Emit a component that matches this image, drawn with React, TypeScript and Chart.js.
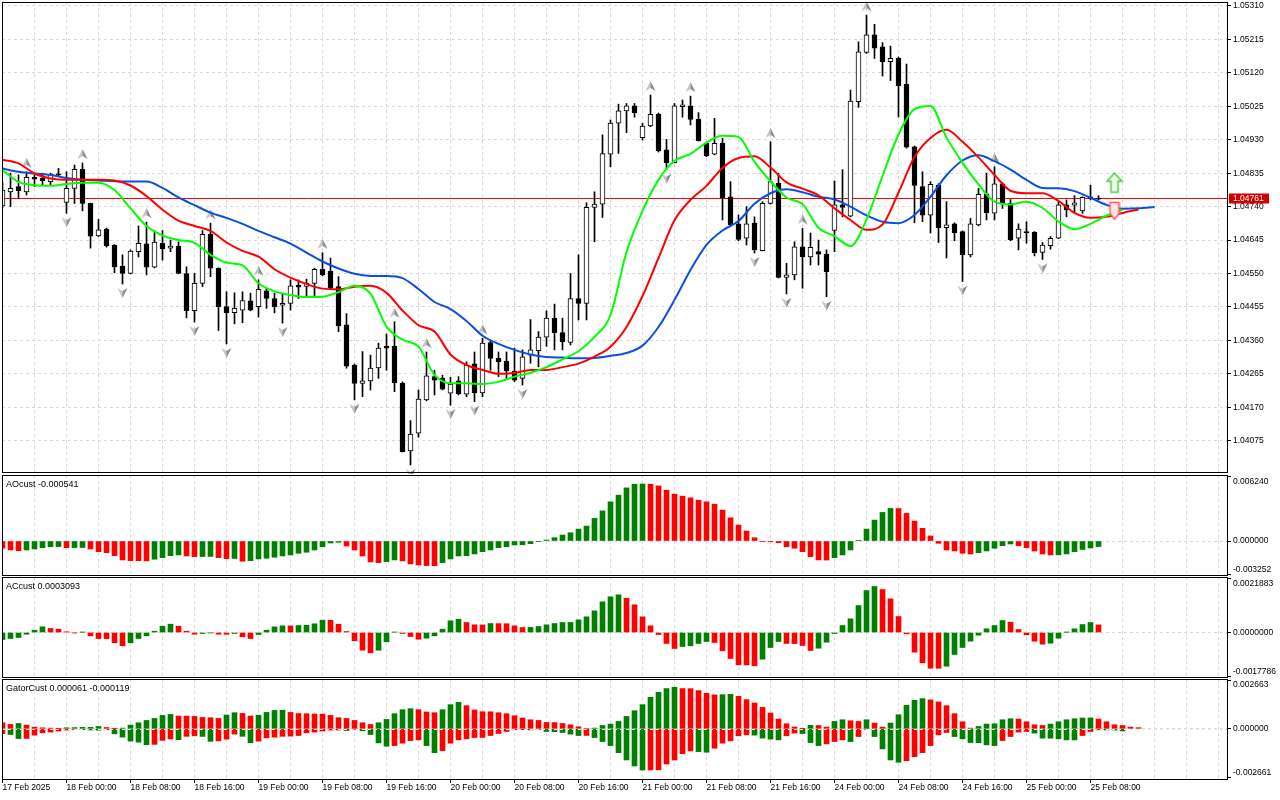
import React, { useEffect, useRef } from 'react';
import { Chart, registerables } from 'chart.js';

Chart.register(...registerables);

// ---------------- DATA ----------------
const timeLabels = [
  '17 Feb 2025', '18 Feb 00:00', '18 Feb 08:00', '18 Feb 16:00', '19 Feb 00:00', '19 Feb 08:00',
  '19 Feb 16:00', '20 Feb 00:00', '20 Feb 08:00', '20 Feb 16:00', '21 Feb 00:00', '21 Feb 08:00',
  '21 Feb 16:00', '24 Feb 00:00', '24 Feb 08:00', '24 Feb 16:00', '25 Feb 00:00', '25 Feb 08:00',
];

const priceTicks = [1.0531, 1.05215, 1.0512, 1.05025, 1.0493, 1.04835, 1.0474, 1.04645, 1.0455, 1.04455, 1.0436, 1.04265, 1.0417, 1.04075];
const currentPrice = 1.04761;

const candleOpen = [
  1.04742, 1.04782, 1.04797, 1.04782, 1.04823, 1.04820, 1.04811, 1.04833, 1.04752, 1.04792,
  1.04846, 1.04749, 1.04657, 1.04676, 1.04631, 1.04571, 1.04550, 1.04612, 1.04634, 1.04568,
  1.04636, 1.04622, 1.04628, 1.04550, 1.04444, 1.04522, 1.04661, 1.04565, 1.04456, 1.04439,
  1.04446, 1.04472, 1.04456, 1.04501, 1.04479, 1.04460, 1.04465, 1.04517, 1.04513, 1.04522,
  1.04562, 1.04557, 1.04513, 1.04404, 1.04290, 1.04238, 1.04245, 1.04282, 1.04343, 1.04343,
  1.04238, 1.04046, 1.04096, 1.04191, 1.04257, 1.04252, 1.04210, 1.04245, 1.04207, 1.04293,
  1.04211, 1.04354, 1.04309, 1.04301, 1.04273, 1.04252, 1.04318, 1.04331, 1.04369, 1.04423,
  1.04382, 1.04354, 1.04479, 1.04465, 1.04738, 1.04747, 1.04889, 1.04977, 1.05012, 1.05026,
  1.04936, 1.04969, 1.05003, 1.04901, 1.04865, 1.05024, 1.05026, 1.04988, 1.04920, 1.04889,
  1.04920, 1.04768, 1.04691, 1.04650, 1.04693, 1.04615, 1.04749, 1.04806, 1.04539, 1.04546,
  1.04626, 1.04597, 1.04612, 1.04605, 1.04672, 1.04745, 1.04713, 1.05038, 1.05178, 1.05228,
  1.05194, 1.05152, 1.05161, 1.05088, 1.04910, 1.04797, 1.04716, 1.04801, 1.04680, 1.04691,
  1.04669, 1.04603, 1.04688, 1.04776, 1.04721, 1.04805, 1.04749, 1.04650, 1.04669, 1.04667,
  1.04610, 1.04629, 1.04650, 1.04745, 1.04744, 1.04728, 1.04768, 1.04764,
];
const candleHigh = [
  1.04810, 1.04835, 1.04830, 1.04839, 1.04830, 1.04835, 1.04835, 1.04849, 1.04839, 1.04858,
  1.04864, 1.04750, 1.04704, 1.04679, 1.04632, 1.04603, 1.04617, 1.04685, 1.04696, 1.04672,
  1.04672, 1.04645, 1.04640, 1.04569, 1.04550, 1.04672, 1.04693, 1.04566, 1.04498, 1.04495,
  1.04498, 1.04494, 1.04532, 1.04508, 1.04494, 1.04494, 1.04532, 1.04532, 1.04534, 1.04565,
  1.04609, 1.04594, 1.04541, 1.04436, 1.04293, 1.04328, 1.04318, 1.04352, 1.04378, 1.04413,
  1.04242, 1.04132, 1.04219, 1.04327, 1.04275, 1.04261, 1.04255, 1.04257, 1.04299, 1.04327,
  1.04366, 1.04361, 1.04327, 1.04327, 1.04338, 1.04333, 1.04419, 1.04385, 1.04444, 1.04463,
  1.04423, 1.04550, 1.04603, 1.04751, 1.04782, 1.04944, 1.04986, 1.05031, 1.05033, 1.05033,
  1.04977, 1.05057, 1.05006, 1.04931, 1.05033, 1.05043, 1.05054, 1.05007, 1.04923, 1.04991,
  1.04934, 1.04811, 1.04716, 1.04740, 1.04711, 1.04754, 1.04924, 1.04835, 1.04579, 1.04640,
  1.04678, 1.04665, 1.04645, 1.04617, 1.04813, 1.04845, 1.05071, 1.05208, 1.05284, 1.05258,
  1.05206, 1.05196, 1.05165, 1.05145, 1.04912, 1.04839, 1.04811, 1.04805, 1.04754, 1.04694,
  1.04671, 1.04707, 1.04792, 1.04835, 1.04853, 1.04808, 1.04760, 1.04691, 1.04697, 1.04669,
  1.04638, 1.04655, 1.04754, 1.04759, 1.04771, 1.04768, 1.04801, 1.04771,
];
const candleLow = [
  1.04736, 1.04740, 1.04764, 1.04773, 1.04797, 1.04801, 1.04801, 1.04825, 1.04721, 1.04749,
  1.04728, 1.04622, 1.04655, 1.04625, 1.04552, 1.04520, 1.04549, 1.04597, 1.04546, 1.04566,
  1.04588, 1.04612, 1.04549, 1.04424, 1.04412, 1.04513, 1.04541, 1.04388, 1.04350, 1.04407,
  1.04410, 1.04444, 1.04426, 1.04451, 1.04438, 1.04409, 1.04446, 1.04479, 1.04484, 1.04484,
  1.04543, 1.04507, 1.04385, 1.04281, 1.04191, 1.04200, 1.04219, 1.04252, 1.04275, 1.04214,
  1.04043, 1.04006, 1.04085, 1.04188, 1.04205, 1.04219, 1.04176, 1.04205, 1.04200, 1.04186,
  1.04200, 1.04275, 1.04257, 1.04252, 1.04243, 1.04233, 1.04295, 1.04285, 1.04343, 1.04333,
  1.04333, 1.04347, 1.04418, 1.04418, 1.04640, 1.04709, 1.04853, 1.04891, 1.04950, 1.04994,
  1.04929, 1.04967, 1.04895, 1.04845, 1.04864, 1.04994, 1.04972, 1.04926, 1.04882, 1.04887,
  1.04702, 1.04685, 1.04643, 1.04631, 1.04608, 1.04614, 1.04747, 1.04537, 1.04492, 1.04532,
  1.04508, 1.04574, 1.04574, 1.04484, 1.04612, 1.04711, 1.04711, 1.05022, 1.05175, 1.05161,
  1.05111, 1.05098, 1.04995, 1.04906, 1.04694, 1.04697, 1.04665, 1.04638, 1.04594, 1.04643,
  1.04527, 1.04597, 1.04685, 1.04702, 1.04702, 1.04735, 1.04643, 1.04617, 1.04636, 1.04600,
  1.04590, 1.04619, 1.04649, 1.04711, 1.04721, 1.04721, 1.04759, 1.04759,
];
const candleClose = [
  1.04787, 1.04792, 1.04785, 1.04823, 1.04818, 1.04814, 1.04832, 1.04830, 1.04792, 1.04846,
  1.04749, 1.04656, 1.04674, 1.04628, 1.04569, 1.04550, 1.04614, 1.04636, 1.04568, 1.04639,
  1.04620, 1.04628, 1.04550, 1.04444, 1.04522, 1.04661, 1.04565, 1.04456, 1.04439, 1.04451,
  1.04473, 1.04446, 1.04505, 1.04479, 1.04456, 1.04465, 1.04515, 1.04511, 1.04522, 1.04562,
  1.04546, 1.04508, 1.04401, 1.04287, 1.04238, 1.04245, 1.04281, 1.04338, 1.04338, 1.04240,
  1.04044, 1.04094, 1.04193, 1.04259, 1.04247, 1.04221, 1.04236, 1.04208, 1.04290, 1.04211,
  1.04352, 1.04309, 1.04299, 1.04273, 1.04247, 1.04313, 1.04333, 1.04369, 1.04423, 1.04382,
  1.04356, 1.04479, 1.04465, 1.04738, 1.04747, 1.04891, 1.04977, 1.05012, 1.05026, 1.05007,
  1.04969, 1.05002, 1.04898, 1.04865, 1.05026, 1.05029, 1.04988, 1.04927, 1.04885, 1.04920,
  1.04765, 1.04688, 1.04647, 1.04691, 1.04617, 1.04749, 1.04811, 1.04539, 1.04546, 1.04626,
  1.04597, 1.04624, 1.04605, 1.04555, 1.04745, 1.04738, 1.05040, 1.05180, 1.05228, 1.05190,
  1.05152, 1.05161, 1.05083, 1.04909, 1.04800, 1.04716, 1.04803, 1.04680, 1.04688, 1.04666,
  1.04603, 1.04691, 1.04775, 1.04723, 1.04805, 1.04747, 1.04645, 1.04676, 1.04665, 1.04609,
  1.04631, 1.04650, 1.04745, 1.04731, 1.04751, 1.04766, 1.04763, 1.04761,
];

// Alligator lines, one value every 2 bars starting at bar 0 (already shifted forward as displayed)
const jawLine = [
  1.04848, 1.04839, 1.04834, 1.04830, 1.04821, 1.04816, 1.04814, 1.04812, 1.04811, 1.04811,
  1.04793, 1.04766, 1.04744, 1.04723, 1.04708, 1.04691, 1.04671, 1.04653, 1.04635, 1.04609,
  1.04584, 1.04564, 1.04549, 1.04543, 1.04543, 1.04537, 1.04506, 1.04469, 1.04449, 1.04415,
  1.04373, 1.04350, 1.04333, 1.04320, 1.04313, 1.04311, 1.04309, 1.04310, 1.04316, 1.04324,
  1.04345, 1.04398, 1.04475, 1.04560, 1.04631, 1.04672, 1.04699, 1.04748, 1.04778, 1.04789,
  1.04781, 1.04768, 1.04760, 1.04740, 1.04715, 1.04697, 1.04693, 1.04716, 1.04768, 1.04829,
  1.04871, 1.04886, 1.04869, 1.04845, 1.04816, 1.04793, 1.04792, 1.04784, 1.04765, 1.04745,
  1.04734, 1.04735, 1.04739,
];
const teethLine = [
  1.04873, 1.04863, 1.04834, 1.04820, 1.04816, 1.04816, 1.04816, 1.04814, 1.04800, 1.04770,
  1.04731, 1.04700, 1.04685, 1.04671, 1.04638, 1.04614, 1.04598, 1.04562, 1.04538, 1.04520,
  1.04507, 1.04505, 1.04512, 1.04515, 1.04495, 1.04445, 1.04403, 1.04385, 1.04320, 1.04290,
  1.04276, 1.04265, 1.04267, 1.04276, 1.04276, 1.04284, 1.04294, 1.04314, 1.04342, 1.04398,
  1.04486, 1.04594, 1.04701, 1.04759, 1.04799, 1.04850, 1.04878, 1.04883, 1.04851, 1.04809,
  1.04791, 1.04772, 1.04735, 1.04702, 1.04674, 1.04689, 1.04780, 1.04881, 1.04935, 1.04958,
  1.04924, 1.04880, 1.04830, 1.04785, 1.04778, 1.04778, 1.04756, 1.04722, 1.04708, 1.04711,
  1.04722, 1.04732,
];
const lipsLine = [
  1.04844, 1.04810, 1.04801, 1.04799, 1.04804, 1.04808, 1.04808, 1.04787, 1.04735, 1.04685,
  1.04658, 1.04645, 1.04637, 1.04603, 1.04581, 1.04573, 1.04522, 1.04499, 1.04489, 1.04483,
  1.04484, 1.04497, 1.04515, 1.04492, 1.04399, 1.04362, 1.04342, 1.04262, 1.04238, 1.04238,
  1.04236, 1.04242, 1.04257, 1.04268, 1.04284, 1.04306, 1.04329, 1.04370, 1.04432, 1.04611,
  1.04728, 1.04816, 1.04870, 1.04890, 1.04922, 1.04941, 1.04938, 1.04867, 1.04812, 1.04766,
  1.04747, 1.04680, 1.04656, 1.04628, 1.04703, 1.04827, 1.04945, 1.05017, 1.05026, 1.04936,
  1.04865, 1.04803, 1.04754, 1.04746, 1.04754, 1.04736, 1.04698, 1.04676, 1.04691, 1.04714,
  1.04731,
];

const upFractalBars = [3, 10, 18, 26, 32, 40, 49, 53, 60, 81, 86, 96, 100, 108, 124];
const downFractalBars = [8, 15, 24, 28, 35, 44, 51, 56, 59, 65, 83, 94, 98, 103, 120, 130];

const signalUpBars = [139];
const signalUpPrices = [1.04808];
const signalDownBars = [139];
const signalDownPrices = [1.04728];

const aoValues = [
  -0.000707, -0.000872, -0.000940, -0.000872, -0.000775, -0.000649, -0.000552, -0.000543, -0.000649, -0.000640,
  -0.000630, -0.000775, -0.001037, -0.001134, -0.001424, -0.001841, -0.001909, -0.001919, -0.001928, -0.001773,
  -0.001618, -0.001424, -0.001357, -0.001454, -0.001521, -0.001512, -0.001502, -0.001618, -0.001715, -0.001696,
  -0.001967, -0.001909, -0.001744, -0.001676, -0.001579, -0.001454, -0.001357, -0.001192, -0.001095, -0.000872,
  -0.000552, -0.000194, -0.000126, -0.000485, -0.000872, -0.001454, -0.002035, -0.002103, -0.002006, -0.001841,
  -0.001938, -0.002229, -0.002326, -0.002393, -0.002403, -0.002103, -0.001744, -0.001454, -0.001434, -0.001260,
  -0.001037, -0.000872, -0.000649, -0.000552, -0.000388, -0.000368, -0.000262, -0.000068, 0.000097, 0.000320,
  0.000581, 0.000804, 0.001163, 0.001454, 0.002200, 0.002936, 0.003808, 0.004457, 0.005165, 0.005523,
  0.005543, 0.005523, 0.005359, 0.004942, 0.004554, 0.004361, 0.004196, 0.003973, 0.003808, 0.003585,
  0.003004, 0.002258, 0.001550, 0.000969, 0.000320, -0.000068, -0.000078, -0.000165, -0.000552, -0.000707,
  -0.001037, -0.001521, -0.001841, -0.001851, -0.001618, -0.001357, -0.000872, 0.000029, 0.001163, 0.002035,
  0.002781, 0.003169, 0.003159, 0.002684, 0.001938, 0.001231, 0.000485, -0.000223, -0.000872, -0.000969,
  -0.001192, -0.001260, -0.001134, -0.000969, -0.000707, -0.000455, -0.000291, -0.000455, -0.000649, -0.000969,
  -0.001260, -0.001357, -0.001347, -0.001260, -0.001037, -0.000824, -0.000678, -0.000541,
];
const aoTicks = [0.00624, 0, -0.003252];

const acValues = [
  -0.0002835, -0.0002430, -0.0002025, -0.0000689, 0.0000932, 0.0002309, 0.0001620, 0.0001337, 0.0000284, -0.0000122,
  0.0000081, -0.0001337, -0.0002430, -0.0002471, -0.0004172, -0.0005387, -0.0004172, -0.0002430, -0.0001337, 0.0000527,
  0.0002552, 0.0003362, 0.0002552, 0.0000527, -0.0000689, -0.0000405, -0.0000122, -0.0000689, -0.0000729, -0.0000405,
  -0.0001742, -0.0002430, -0.0000810, 0.0000932, 0.0002309, 0.0002714, 0.0002673, 0.0002835, 0.0002957, 0.0003524,
  0.0004982, 0.0004941, 0.0003362, 0.0000405, -0.0003362, -0.0007169, -0.0008222, -0.0007169, -0.0003767, 0.0000122,
  -0.0000405, -0.0001620, -0.0002714, -0.0002309, -0.0001337, 0.0001337, 0.0004739, 0.0005387, 0.0004050, 0.0003119,
  0.0003078, 0.0003645, 0.0003605, 0.0003564, 0.0002714, 0.0002025, 0.0002066, 0.0002430, 0.0003119, 0.0003645,
  0.0004050, 0.0004091, 0.0005144, 0.0006359, 0.0008789, 0.0012434, 0.0014459, 0.0015269, 0.0013892, 0.0011219,
  0.0006359, 0.0002714, -0.0000810, -0.0004455, -0.0006480, -0.0005670, -0.0005387, -0.0004455, -0.0003645, -0.0004050,
  -0.0007412, -0.0010530, -0.0013082, -0.0013122, -0.0013487, -0.0010814, -0.0006075, -0.0003645, -0.0004455, -0.0004496,
  -0.0005265, -0.0007290, -0.0006359, -0.0003929, -0.0000405, 0.0002835, 0.0005549, 0.0010935, 0.0017010, 0.0018630,
  0.0017415, 0.0013649, 0.0006480, -0.0000527, -0.0007979, -0.0012272, -0.0014459, -0.0014499, -0.0013649, -0.0008910,
  -0.0006075, -0.0003524, -0.0001094, 0.0001499, 0.0002835, 0.0004860, 0.0004172, 0.0001215, -0.0000932, -0.0003524,
  -0.0004739, -0.0004334, -0.0002309, 0.0000081, 0.0001499, 0.0003240, 0.0004050, 0.0003093,
];
const acTicks = [0.0021883, 0, -0.0017786];

const gatorUpper = [
  0.000329, 0.000236, 0.000291, 0.000203, 0.000093, 0.000055, 0.000038, 0.000016, 0.000055, 0.000066,
  0.000077, 0.000082, 0.000126, 0.000071, 0.000016, 0.000038, 0.000203, 0.000329, 0.000456, 0.000565,
  0.000730, 0.000785, 0.000697, 0.000692, 0.000675, 0.000620, 0.000604, 0.000565, 0.000752, 0.000878,
  0.000840, 0.000697, 0.000741, 0.000895, 0.001005, 0.001016, 0.000895, 0.000834, 0.000824, 0.000807,
  0.000802, 0.000730, 0.000604, 0.000565, 0.000456, 0.000329, 0.000236, 0.000329, 0.000511, 0.000824,
  0.001043, 0.001098, 0.001043, 0.000917, 0.000878, 0.001043, 0.001318, 0.001444, 0.001263, 0.001027,
  0.000933, 0.000928, 0.000878, 0.000824, 0.000714, 0.000587, 0.000494, 0.000456, 0.000346, 0.000340,
  0.000291, 0.000220, 0.000110, 0.000027, 0.000038, 0.000181, 0.000258, 0.000401, 0.000675, 0.000988,
  0.001318, 0.001718, 0.001993, 0.002196, 0.002267, 0.002196, 0.002191, 0.002086, 0.001938, 0.001850,
  0.001861, 0.001883, 0.001773, 0.001592, 0.001411, 0.001169, 0.000862, 0.000533, 0.000275, 0.000099,
  0.000011, 0.000187, 0.000181, 0.000093, 0.000401, 0.000494, 0.000439, 0.000401, 0.000494, 0.000313,
  0.000093, 0.000313, 0.000769, 0.001279, 0.001554, 0.001647, 0.001576, 0.001466, 0.001263, 0.000824,
  0.000384, 0.000038, 0.000126, 0.000258, 0.000275, 0.000494, 0.000549, 0.000533, 0.000384, 0.000220,
  0.000181, 0.000258, 0.000384, 0.000494, 0.000549, 0.000587, 0.000593, 0.000533, 0.000384, 0.000220,
  0.000181, 0.000093, 0.000061,
];
const gatorLower = [
  -0.000258, -0.000313, -0.000533, -0.000527, -0.000346, -0.000220, -0.000181, -0.000126, -0.000071, -0.000038,
  -0.000049, -0.000066, -0.000077, -0.000055, -0.000275, -0.000456, -0.000675, -0.000730, -0.000867, -0.000851,
  -0.000631, -0.000554, -0.000593, -0.000412, -0.000384, -0.000417, -0.000686, -0.000659, -0.000565, -0.000291,
  -0.000412, -0.000763, -0.000675, -0.000494, -0.000456, -0.000412, -0.000401, -0.000368, -0.000220, -0.000181,
  -0.000126, -0.000071, -0.000066, -0.000093, -0.000027, -0.000110, -0.000313, -0.000769, -0.000950, -0.000917,
  -0.000785, -0.000642, -0.000604, -0.000917, -0.001301, -0.001191, -0.000785, -0.000604, -0.000549, -0.000478,
  -0.000472, -0.000368, -0.000258, -0.000148, -0.000055, -0.000049, -0.000060, -0.000038, -0.000148, -0.000154,
  -0.000203, -0.000291, -0.000368, -0.000362, -0.000478, -0.000697, -0.000917, -0.001301, -0.001702, -0.002031,
  -0.002251, -0.002245, -0.002240, -0.001922, -0.001702, -0.001356, -0.001208, -0.001246, -0.001279, -0.001060,
  -0.000785, -0.000659, -0.000384, -0.000329, -0.000346, -0.000511, -0.000565, -0.000604, -0.000384, -0.000236,
  -0.000258, -0.000752, -0.000917, -0.000824, -0.000697, -0.000604, -0.000697, -0.000423, -0.000016, -0.000423,
  -0.001098, -0.001702, -0.001828, -0.001740, -0.001521, -0.001301, -0.000917, -0.000329, -0.000203, -0.000423,
  -0.000549, -0.000752, -0.000758, -0.000878, -0.000917, -0.000642, -0.000423, -0.000181, -0.000148, -0.000236,
  -0.000511, -0.000516, -0.000549, -0.000604, -0.000609, -0.000368, -0.000148, -0.000055, -0.000060, -0.000066,
  -0.000119,
];
const gatorTicks = [0.002663, 0, -0.002661];

// ---------------- STYLE ----------------
const X_MIN = -0.0625;
const X_MAX = 153.0625;
const GRID_COLOR = '#d9d9d9';
const FONT_FAMILY = '"Liberation Sans", Arial, sans-serif';
const AXIS_FONT = { family: FONT_FAMILY, size: 8.5 };
const TITLE_FONT = '9px "Liberation Sans", Arial, sans-serif';
const HIST_UP = '#008000';
const HIST_DOWN = '#ff0000';
const PRICE_LINE = '#ff0000';
const TRANSPARENT = 'rgba(0,0,0,0)';

function gridTickValues(): number[] {
  const v: number[] = [];
  for (let t = 0; t <= 152; t += 4) v.push(t);
  return v;
}

function isLabelTick(v: number) {
  return v % 8 === 0 && v / 8 < timeLabels.length;
}

function makeXScale(showLabels: boolean) {
  return {
    type: 'linear',
    position: 'bottom',
    min: X_MIN,
    max: X_MAX,
    offset: false,
    afterBuildTicks: (axis: any) => {
      axis.ticks = gridTickValues().map((value) => ({ value }));
    },
    afterFit: (axis: any) => {
      axis.height = showLabels ? 21 : 0;
      axis.paddingLeft = 0;
      axis.paddingRight = 0;
    },
    grid: {
      offset: false,
      color: GRID_COLOR,
      lineWidth: 1,
      drawTicks: showLabels,
      tickLength: 4,
      tickWidth: 1,
      tickBorderDash: [],
      tickColor: (ctx: any) => (ctx.tick && isLabelTick(ctx.tick.value) ? '#000000' : TRANSPARENT),
    },
    border: { display: false, dash: [3, 3] },
    ticks: {
      display: showLabels,
      autoSkip: false,
      maxRotation: 0,
      minRotation: 0,
      align: 'start',
      padding: 0,
      color: '#000000',
      font: AXIS_FONT,
      callback: (value: any) => {
        const v = Number(value);
        return isLabelTick(v) ? timeLabels[v / 8] : '';
      },
    },
  };
}

function makeYScale(min: number, max: number, tickValues: number[], decimals: number, edgeLabels: boolean, gridAll: boolean) {
  return {
    type: 'linear',
    position: 'right',
    min,
    max,
    beginAtZero: false,
    afterBuildTicks: (axis: any) => {
      axis.ticks = tickValues.map((value) => ({ value }));
    },
    afterFit: (axis: any) => {
      axis.width = 53;
      axis.paddingTop = 0;
      axis.paddingBottom = 0;
    },
    grid: {
      color: (ctx: any) => (gridAll || (ctx.tick && ctx.tick.value === 0) ? GRID_COLOR : TRANSPARENT),
      lineWidth: 1,
      drawTicks: true,
      tickLength: 4,
      tickWidth: 1,
      tickBorderDash: [],
      tickColor: '#000000',
    },
    border: { display: false, dash: [3, 3] },
    ticks: {
      autoSkip: false,
      padding: 2,
      color: '#000000',
      font: AXIS_FONT,
      callback: (value: any) => {
        const v = Number(value);
        const text = v.toFixed(decimals);
        if (!edgeLabels || v === 0) return text;
        return v > 0 ? ['', text] : [text, ''];
      },
    },
  };
}

function histColors(values: number[], first: string, useAbs: boolean): string[] {
  const out: string[] = [];
  values.forEach((v, i) => {
    if (i === 0) {
      out.push(first);
      return;
    }
    const a = useAbs ? Math.abs(v) : v;
    const b = useAbs ? Math.abs(values[i - 1]) : values[i - 1];
    out.push(a > b ? HIST_UP : a < b ? HIST_DOWN : out[i - 1]);
  });
  return out;
}

const framePlugin = {
  id: 'panelFrame',
  afterDraw(chart: any) {
    const { ctx, chartArea: a } = chart;
    ctx.save();
    ctx.strokeStyle = '#000000';
    ctx.lineWidth = 1;
    ctx.setLineDash([]);
    ctx.strokeRect(a.left + 0.5, a.top + 0.5, a.right - a.left, a.bottom - a.top);
    ctx.restore();
  },
};

function titlePlugin(text: string) {
  return {
    id: 'panelTitle',
    afterDraw(chart: any) {
      const { ctx, chartArea: a } = chart;
      ctx.save();
      ctx.font = TITLE_FONT;
      ctx.fillStyle = '#000000';
      ctx.textAlign = 'left';
      ctx.textBaseline = 'middle';
      ctx.fillText(text, a.left + 4, a.top + 10);
      ctx.restore();
    },
  };
}

const zeroOverlayPlugin = {
  id: 'zeroOverlay',
  afterDatasetsDraw(chart: any) {
    const { ctx, chartArea: a } = chart;
    const y = Math.round(chart.scales.y.getPixelForValue(0)) + 0.5;
    ctx.save();
    ctx.strokeStyle = '#ececec';
    ctx.lineWidth = 1;
    ctx.setLineDash([3, 3]);
    ctx.beginPath();
    ctx.moveTo(a.left, y);
    ctx.lineTo(a.right, y);
    ctx.stroke();
    ctx.restore();
  },
};

const pricePlugin = {
  id: 'currentPrice',
  beforeDatasetsDraw(chart: any) {
    const { ctx, chartArea: a } = chart;
    const y = Math.round(chart.scales.y.getPixelForValue(currentPrice)) - 0.5;
    ctx.save();
    ctx.setLineDash([]);
    ctx.strokeStyle = PRICE_LINE;
    ctx.lineWidth = 1;
    ctx.beginPath();
    ctx.moveTo(a.left, y);
    ctx.lineTo(a.right, y);
    ctx.stroke();
    ctx.restore();
  },
  afterDraw(chart: any) {
    const { ctx, chartArea: a } = chart;
    const y = Math.round(chart.scales.y.getPixelForValue(currentPrice)) - 1;
    ctx.save();
    ctx.fillStyle = '#d20000';
    ctx.fillRect(a.right + 2, y - 4.5, 40, 10);
    ctx.font = `8.5px ${FONT_FAMILY}`;
    ctx.fillStyle = '#ffffff';
    ctx.textAlign = 'left';
    ctx.textBaseline = 'middle';
    ctx.fillText(currentPrice.toFixed(5), a.right + 6, y + 0.5);
    ctx.restore();
  },
};

function makeFractalImage(up: boolean): HTMLCanvasElement {
  const c = document.createElement('canvas');
  c.width = 11;
  c.height = 32;
  const g = c.getContext('2d')!;
  const cy = up ? 7 : 25;
  const s = up ? 1 : -1;
  const tip = [5.5, cy - 5 * s];
  const left = [0.5, cy + 5 * s];
  const right = [10.5, cy + 5 * s];
  const notch = [5.5, cy + 2 * s];
  g.fillStyle = '#c6c6c6';
  g.beginPath();
  g.moveTo(tip[0], tip[1]);
  g.lineTo(notch[0], notch[1]);
  g.lineTo(left[0], left[1]);
  g.closePath();
  g.fill();
  g.fillStyle = '#8a8a8a';
  g.beginPath();
  g.moveTo(tip[0], tip[1]);
  g.lineTo(right[0], right[1]);
  g.lineTo(notch[0], notch[1]);
  g.closePath();
  g.fill();
  return c;
}

function makeSignalUpImage(): HTMLCanvasElement {
  const c = document.createElement('canvas');
  c.width = 18;
  c.height = 22;
  const g = c.getContext('2d')!;
  g.beginPath();
  g.moveTo(9, 1.5);
  g.lineTo(16.5, 9.5);
  g.lineTo(12.5, 9.5);
  g.lineTo(12.5, 20.5);
  g.lineTo(5.5, 20.5);
  g.lineTo(5.5, 9.5);
  g.lineTo(1.5, 9.5);
  g.closePath();
  g.fillStyle = '#f2ffe2';
  g.fill();
  g.strokeStyle = '#4cc44c';
  g.lineWidth = 1.5;
  g.stroke();
  return c;
}

function makeSignalDownImage(): HTMLCanvasElement {
  const c = document.createElement('canvas');
  c.width = 12;
  c.height = 20;
  const g = c.getContext('2d')!;
  g.beginPath();
  g.moveTo(1.5, 1.5);
  g.lineTo(10.5, 1.5);
  g.lineTo(10.5, 12.5);
  g.lineTo(6, 18.5);
  g.lineTo(1.5, 12.5);
  g.closePath();
  g.fillStyle = '#ffe6e6';
  g.fill();
  g.strokeStyle = '#ff5858';
  g.lineWidth = 1.5;
  g.stroke();
  return c;
}

function baseOptions(padding: any, scales: any) {
  return {
    responsive: false,
    animation: false,
    events: [],
    layout: { padding, autoPadding: false },
    plugins: { legend: { display: false }, tooltip: { enabled: false } },
    scales,
  };
}

function mainConfig(): any {
  const bodyData = candleOpen.map((o, i) => ({ x: i, y: [Math.min(o, candleClose[i]), Math.max(o, candleClose[i])] }));
  const wickData = candleOpen.map((_, i) => ({ x: i, y: [candleLow[i], candleHigh[i]] }));
  const bodyColors = candleOpen.map((o, i) => (candleClose[i] >= o ? '#ffffff' : '#000000'));
  const linePoints = (vals: number[]) => vals.map((y, k) => ({ x: 2 * k, y }));
  return {
    type: 'bar',
    data: {
      datasets: [
        {
          type: 'line', label: 'Signal up', order: 0, showLine: false, clip: 12,
          data: signalUpBars.map((x, k) => ({ x, y: signalUpPrices[k] })),
          pointStyle: makeSignalUpImage(), pointRadius: 6,
        },
        {
          type: 'line', label: 'Signal down', order: 0, showLine: false, clip: 12,
          data: signalDownBars.map((x, k) => ({ x, y: signalDownPrices[k] })),
          pointStyle: makeSignalDownImage(), pointRadius: 6,
        },
        {
          type: 'line', label: 'Lips', order: 1, data: linePoints(lipsLine),
          borderColor: '#00ff00', borderWidth: 2, pointRadius: 0, cubicInterpolationMode: 'monotone',
        },
        {
          type: 'line', label: 'Teeth', order: 1, data: linePoints(teethLine),
          borderColor: '#ff0000', borderWidth: 2, pointRadius: 0, cubicInterpolationMode: 'monotone',
        },
        {
          type: 'line', label: 'Jaw', order: 1, data: linePoints(jawLine),
          borderColor: '#0a50dc', borderWidth: 2, pointRadius: 0, cubicInterpolationMode: 'monotone',
        },
        {
          type: 'line', label: 'Fractals up', order: 2, showLine: false, clip: 6,
          data: upFractalBars.map((x) => ({ x, y: candleHigh[x] })),
          pointStyle: makeFractalImage(true), pointRadius: 5,
        },
        {
          type: 'line', label: 'Fractals down', order: 2, showLine: false, clip: 6,
          data: downFractalBars.map((x) => ({ x, y: candleLow[x] })),
          pointStyle: makeFractalImage(false), pointRadius: 5,
        },
        {
          type: 'bar', label: 'Body', order: 3, data: bodyData, grouped: false,
          barThickness: 5, minBarLength: 1, backgroundColor: bodyColors,
          borderColor: '#000000', borderWidth: 1, borderSkipped: false,
        },
        {
          type: 'bar', label: 'Wick', order: 4, data: wickData, grouped: false,
          barThickness: 1, minBarLength: 1, backgroundColor: '#000000', borderWidth: 0,
        },
      ],
    },
    options: baseOptions(
      { left: 2, right: 0, top: 2, bottom: 2 },
      { x: makeXScale(false), y: makeYScale(1.03986, 1.053213, priceTicks, 5, false, true) },
    ),
    plugins: [pricePlugin, framePlugin],
  };
}

function histDataset(label: string, values: number[], colors: string[]) {
  return {
    type: 'bar',
    label,
    data: values.map((y, i) => ({ x: i, y })),
    grouped: false,
    barThickness: 5,
    backgroundColor: colors,
    borderWidth: 0,
  };
}

function aoConfig(): any {
  return {
    type: 'bar',
    data: { datasets: [histDataset('AO', aoValues, histColors(aoValues, HIST_DOWN, false))] },
    options: baseOptions(
      { left: 2, right: 0, top: 1, bottom: 1 },
      { x: makeXScale(false), y: makeYScale(-0.003307, 0.00642, aoTicks, 6, true, false) },
    ),
    plugins: [framePlugin, titlePlugin(`AOcust ${aoValues[aoValues.length - 1].toFixed(6)}`)],
  };
}

function acConfig(): any {
  return {
    type: 'bar',
    data: { datasets: [histDataset('AC', acValues, histColors(acValues, HIST_UP, false))] },
    options: baseOptions(
      { left: 2, right: 0, top: 1, bottom: 1 },
      { x: makeXScale(false), y: makeYScale(-0.001803, 0.002249, acTicks, 7, true, false) },
    ),
    plugins: [framePlugin, titlePlugin(`ACcust ${acValues[acValues.length - 1].toFixed(7)}`)],
  };
}

function gatorConfig(): any {
  return {
    type: 'bar',
    data: {
      datasets: [
        histDataset('Gator upper', gatorUpper, histColors(gatorUpper, HIST_DOWN, true)),
        histDataset('Gator lower', gatorLower, histColors(gatorLower, HIST_DOWN, true)),
      ],
    },
    options: baseOptions(
      { left: 2, right: 0, top: 1, bottom: 0 },
      { x: makeXScale(true), y: makeYScale(-0.00274, 0.002718, gatorTicks, 6, true, false) },
    ),
    plugins: [
      zeroOverlayPlugin,
      framePlugin,
      titlePlugin(`GatorCust ${gatorUpper[gatorUpper.length - 1].toFixed(6)} ${gatorLower[gatorLower.length - 1].toFixed(6)}`),
    ],
  };
}

export default function App() {
  const mainRef = useRef<HTMLCanvasElement>(null);
  const aoRef = useRef<HTMLCanvasElement>(null);
  const acRef = useRef<HTMLCanvasElement>(null);
  const gatorRef = useRef<HTMLCanvasElement>(null);

  useEffect(() => {
    const charts: Chart[] = [];
    if (mainRef.current) charts.push(new Chart(mainRef.current, mainConfig()));
    if (aoRef.current) charts.push(new Chart(aoRef.current, aoConfig()));
    if (acRef.current) charts.push(new Chart(acRef.current, acConfig()));
    if (gatorRef.current) charts.push(new Chart(gatorRef.current, gatorConfig()));
    return () => charts.forEach((c) => c.destroy());
  }, []);

  const canvasStyle = (top: number, height: number): React.CSSProperties => ({
    position: 'absolute', left: 0, top, width: 1280, height, display: 'block',
  });

  return (
    <div style={{ position: 'fixed', left: 0, top: 0, width: 1280, height: 800, background: '#ffffff', overflow: 'hidden' }}>
      <canvas ref={mainRef} width={1280} height={474} style={canvasStyle(0, 474)} />
      <canvas ref={aoRef} width={1280} height={102} style={canvasStyle(474, 102)} />
      <canvas ref={acRef} width={1280} height={102} style={canvasStyle(576, 102)} />
      <canvas ref={gatorRef} width={1280} height={122} style={canvasStyle(678, 122)} />
    </div>
  );
}
